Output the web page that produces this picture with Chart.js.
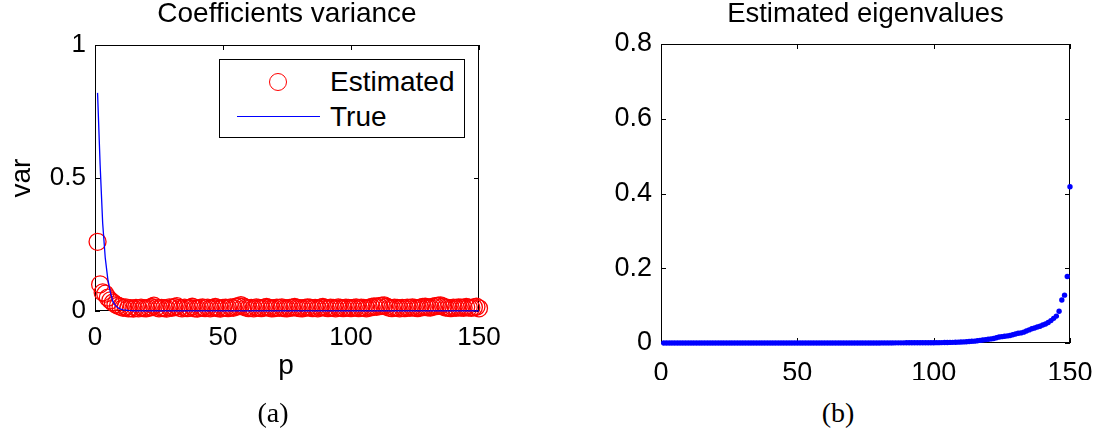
<!DOCTYPE html>
<html>
<head>
<meta charset="utf-8">
<script src="https://cdn.jsdelivr.net/npm/chart.js@4.4.1/dist/chart.umd.min.js"></script>
<style>
  body { margin: 0; background: #fff; }
  #page { position: relative; width: 1109px; height: 440px; overflow: hidden; background: #fff;
          font-family: "Liberation Sans", Arial, Helvetica, sans-serif; color: #000; }
  .abs { position: absolute; white-space: nowrap; }
  #leftBox { position: absolute; left: 0; top: 0; }
  #rightBox { position: absolute; left: 560px; top: 0; }
  .title { text-align: center; }
  .legend { position: absolute; left: 219px; top: 59px; width: 244px; height: 77px;
            border: 1px solid #000; background: #fff; }
  .caption { font-family: "Liberation Serif", "DejaVu Serif", serif; font-size: 28px; line-height: 30px;
             text-align: center; width: 80px; }
</style>
</head>
<body>
<div id="page">
  <div id="leftBox"><canvas id="leftChart" width="540" height="360"></canvas></div>
  <div id="rightBox"><canvas id="rightChart" width="549" height="380"></canvas></div>

  <div class="abs title" style="left:87px; top:-1px; width:400px; font-size:28px; line-height:28px;">Coefficients variance</div>
  <div class="abs title" style="left:665px; top:-1px; width:401px; font-size:27.5px; line-height:28px;">Estimated eigenvalues</div>

  <div class="abs" style="left:-29px; top:163px; width:100px; height:30px; font-size:28px; line-height:30px; text-align:center; transform:rotate(-90deg);">var</div>
  <div class="abs" style="left:256px; top:350px; width:60px; font-size:28px; line-height:30px; text-align:center;">p</div>

  <div class="legend"></div>
  <div class="abs" style="left:269px; top:73px; width:18px; height:18px; box-sizing:border-box; border:1.3px solid #ff0000; border-radius:50%;"></div>
  <div class="abs" style="left:237px; top:116px; width:83px; height:0; border-top:1.3px solid #0000ff;"></div>
  <div class="abs" style="left:330px; top:68px; font-size:28px; line-height:28px;">Estimated</div>
  <div class="abs" style="left:330px; top:103px; font-size:28px; line-height:28px;">True</div>

  <div class="abs caption" style="left:233px; top:398px;">(a)</div>
  <div class="abs caption" style="left:798px; top:398px;">(b)</div>
</div>

<script>
// index p = 1..150
const pIndex = Array.from({ length: 150 }, (_, i) => i + 1);

// estimated coefficient variance (red circles)
const estimatedVar = [
  0.26, 0.10, 0.07, 0.065, 0.05, 0.04, 0.032, 0.025, 0.02, 0.016,
  0.012, 0.014, 0.01, 0.011, 0.009, 0.012, 0.01, 0.013, 0.011, 0.01,
  0.012, 0.015, 0.02, 0.013, 0.01, 0.012, 0.011, 0.009, 0.014, 0.012,
  0.015, 0.018, 0.012, 0.01, 0.013, 0.011, 0.012, 0.016, 0.01, 0.009,
  0.012, 0.014, 0.011, 0.013, 0.01, 0.012, 0.015, 0.011, 0.009, 0.012,
  0.013, 0.011, 0.014, 0.012, 0.016, 0.018, 0.022, 0.017, 0.013, 0.011,
  0.012, 0.01, 0.014, 0.012, 0.011, 0.013, 0.015, 0.012, 0.01, 0.011,
  0.013, 0.012, 0.014, 0.011, 0.01, 0.012, 0.013, 0.015, 0.012, 0.011,
  0.01, 0.012, 0.014, 0.013, 0.011, 0.012, 0.01, 0.013, 0.015, 0.012,
  0.011, 0.013, 0.012, 0.01, 0.014, 0.012, 0.011, 0.013, 0.012, 0.011,
  0.012, 0.014, 0.011, 0.013, 0.012, 0.01, 0.012, 0.015, 0.017, 0.016,
  0.018, 0.02, 0.021, 0.016, 0.012, 0.011, 0.013, 0.012, 0.01, 0.012,
  0.011, 0.013, 0.012, 0.014, 0.012, 0.011, 0.013, 0.015, 0.016, 0.014,
  0.013, 0.016, 0.018, 0.02, 0.021, 0.017, 0.013, 0.012, 0.011, 0.013,
  0.012, 0.014, 0.013, 0.012, 0.015, 0.013, 0.012, 0.014, 0.016, 0.01
];

// true variance (blue line), flat after p = 20
const trueP = [1, 2, 3, 4, 5, 6, 7, 8, 9, 10, 11, 12, 13, 14, 15, 16, 17, 18, 19, 20, 150];
const trueVar = [0.82, 0.55, 0.33, 0.2, 0.12, 0.07, 0.035, 0.02, 0.012, 0.007,
                 0.004, 0.003, 0.002, 0.0015, 0.001, 0.0008, 0.0007, 0.0006, 0.0005, 0.0005, 0.0002];

// sorted eigenvalues (blue dots)
const eigenvalues = [
  0, 0, 0, 0, 0, 0, 0, 0, 0, 0,
  0, 0, 0, 0, 0, 0, 0, 0, 0, 0,
  0, 0, 0, 0, 0, 0, 0, 0, 0, 0,
  0, 0, 0, 0, 0, 0, 0, 0, 0, 0,
  0, 0, 0, 0, 0, 0, 0, 0, 0, 0,
  0, 0, 0, 0, 0, 0, 0, 0, 0, 0,
  0.0001, 0.0001, 0.0001, 0.0001, 0.0001, 0.0001, 0.0001, 0.0001, 0.0001, 0.0001,
  0.0002, 0.0002, 0.0002, 0.0002, 0.0002, 0.0002, 0.0002, 0.0002, 0.0002, 0.0002,
  0.0003, 0.0003, 0.0003, 0.0003, 0.0003, 0.0004, 0.0004, 0.0004, 0.0004, 0.0005,
  0.0005, 0.0005, 0.0006, 0.0006, 0.0006, 0.0007, 0.0007, 0.0007, 0.0008, 0.0008,
  0.0009, 0.001, 0.0011, 0.0012, 0.0014, 0.0016, 0.0018, 0.002, 0.0023, 0.0026,
  0.003, 0.0035, 0.004, 0.0045, 0.005, 0.006, 0.007, 0.008, 0.009, 0.01,
  0.011, 0.012, 0.014, 0.016, 0.017, 0.018, 0.019, 0.02, 0.022, 0.024,
  0.026, 0.027, 0.029, 0.032, 0.035, 0.038, 0.04, 0.043, 0.045, 0.048,
  0.051, 0.055, 0.06, 0.066, 0.072, 0.085, 0.115, 0.128, 0.178, 0.418
];

const leftXTicks = [0, 50, 100, 150];
const leftYTicks = [0, 0.5, 1];
const rightXTicks = [0, 50, 100, 150];
const rightYTicks = [0, 0.2, 0.4, 0.6, 0.8];

// MATLAB style: closed box with inward ticks on all four sides
const matlabBox = {
  id: 'matlabBox',
  beforeDatasetsDraw(chart, args, opts) {
    const { ctx, chartArea: a } = chart;
    const x = chart.scales.x, y = chart.scales.y;
    const len = opts.len || 5;
    ctx.save();
    ctx.strokeStyle = '#000';
    ctx.lineWidth = 1;
    ctx.strokeRect(a.left + 0.5, a.top + 0.5, a.right - a.left - 1, a.bottom - a.top - 1);
    ctx.beginPath();
    x.ticks.forEach(t => {
      const px = Math.round(x.getPixelForValue(t.value)) + 0.5;
      ctx.moveTo(px, a.bottom); ctx.lineTo(px, a.bottom - len);
      ctx.moveTo(px, a.top); ctx.lineTo(px, a.top + len);
    });
    y.ticks.forEach(t => {
      const py = Math.round(y.getPixelForValue(t.value)) + 0.5;
      ctx.moveTo(a.left, py); ctx.lineTo(a.left + len, py);
      ctx.moveTo(a.right, py); ctx.lineTo(a.right - len, py);
    });
    ctx.stroke();
    ctx.restore();
  }
};

function axis(min, max, ticks, fontSize, pad, size, isX) {
  return {
    type: 'linear',
    min: min,
    max: max,
    grid: { display: false, drawTicks: false },
    border: { display: false },
    afterBuildTicks: s => { s.ticks = ticks.map(v => ({ value: v })); },
    afterFit: s => { if (isX) s.height = size; else s.width = size; },
    ticks: {
      padding: pad,
      color: '#000',
      font: { family: '"Liberation Sans", Arial, sans-serif', size: fontSize },
      maxRotation: 0,
      autoSkip: false,
      callback: v => String(+v.toFixed(2))
    }
  };
}

new Chart(document.getElementById('leftChart'), {
  type: 'scatter',
  data: {
    datasets: [
      {
        type: 'line',
        label: 'True',
        data: trueP.map((p, i) => ({ x: p, y: trueVar[i] })),
        borderColor: '#0000ff',
        borderWidth: 1.3,
        pointRadius: 0,
        showLine: true,
        tension: 0,
        fill: false,
        order: 0,
        clip: false
      },
      {
        label: 'Estimated',
        data: pIndex.map((p, i) => ({ x: p, y: estimatedVar[i] })),
        pointRadius: 8.5,
        pointBorderColor: '#ff0000',
        pointBackgroundColor: 'rgba(0,0,0,0)',
        pointBorderWidth: 1.3,
        showLine: false,
        order: 1,
        clip: false
      }
    ]
  },
  options: {
    responsive: false,
    animation: false,
    devicePixelRatio: 1,
    layout: { padding: { left: 0, top: 45, right: 61, bottom: 0 } },
    scales: {
      x: axis(0, 150, leftXTicks, 26, 11, 49, true),
      y: axis(0, 1, leftYTicks, 26, 9, 95, false)
    },
    plugins: {
      legend: { display: false },
      tooltip: { enabled: false },
      matlabBox: { len: 5 }
    }
  },
  plugins: [matlabBox]
});

new Chart(document.getElementById('rightChart'), {
  type: 'scatter',
  data: {
    datasets: [{
      label: 'Eigenvalues',
      data: pIndex.map((p, i) => ({ x: p, y: eigenvalues[i] })),
      pointRadius: 2.7,
      pointBackgroundColor: '#0000ff',
      pointBorderWidth: 0,
      showLine: false,
      clip: false
    }]
  },
  options: {
    responsive: false,
    animation: false,
    devicePixelRatio: 1,
    layout: { padding: { left: 0, top: 44, right: 39, bottom: 0 } },
    scales: {
      x: axis(0, 150, rightXTicks, 27, 14, 37, true),
      y: axis(0, 0.8, rightYTicks, 27, 9, 101, false)
    },
    plugins: {
      legend: { display: false },
      tooltip: { enabled: false },
      matlabBox: { len: 5 }
    }
  },
  plugins: [matlabBox]
});
</script>
</body>
</html>
